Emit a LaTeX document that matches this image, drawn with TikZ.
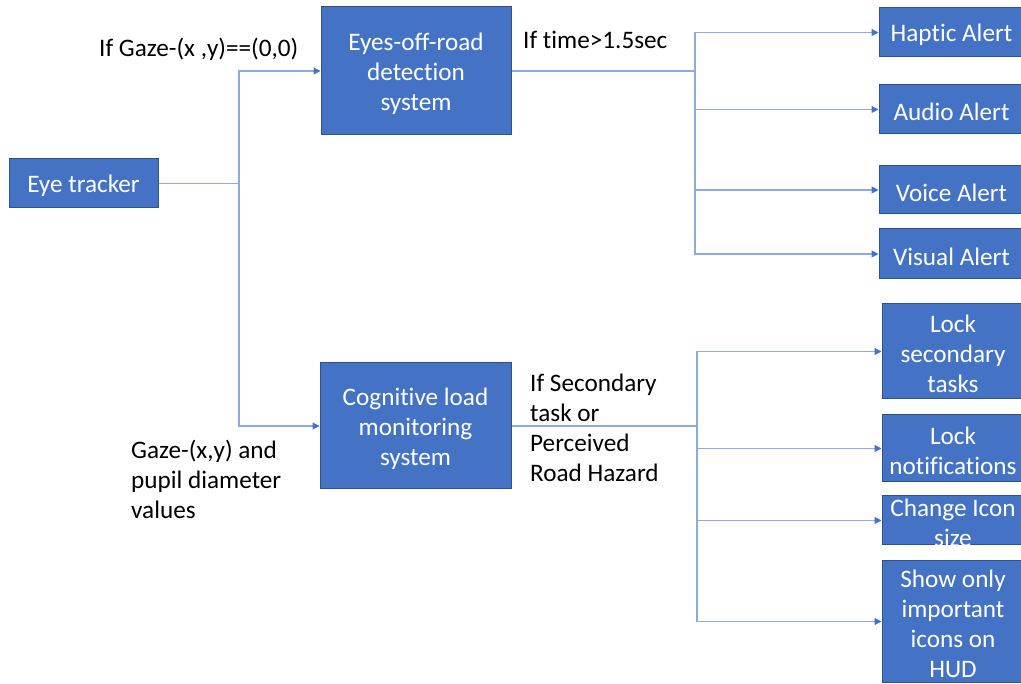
\documentclass[tikz,border=0pt]{standalone}
\usepackage{fontspec}
\setmainfont{Carlito}[Ligatures={NoCommon}]
\usetikzlibrary{arrows.meta}
\definecolor{boxfill}{HTML}{4472C4}
\definecolor{boxline}{HTML}{2F528F}
\definecolor{conn}{HTML}{8FAADC}
\definecolor{tipc}{HTML}{4472C4}
\tikzset{
  box/.style={draw=boxline, line width=1pt, fill=boxfill, inner sep=0pt},
  boxtxt/.style={text=white, align=center, inner sep=0pt, yshift=-2.5pt, font=\fontsize{25.2}{30}\selectfont},
  lbl/.style={text=black, align=left, inner sep=0pt, font=\fontsize{25.2}{30}\selectfont},
  wire/.style={draw=conn, line width=1.1pt},
  arr/.style={wire, -{Triangle[length=7pt,width=7pt,color=tipc]}},
}
\begin{document}
\begin{tikzpicture}[x=1pt,y=-1pt]
\useasboundingbox (0,0) rectangle (1021,684);
% boxes
\node[box, minimum width=149pt, minimum height=49pt, label={[boxtxt]center:Eye tracker}] (eye) at (83.5,183.5) {};
\node[box, minimum width=190pt, minimum height=128pt, label={[boxtxt]center:Eyes-off-road\\detection\\system}] (eyes) at (416,71) {};
\node[box, minimum width=191pt, minimum height=126pt, label={[boxtxt]center:Cognitive load\\monitoring\\system}] (cog) at (415.5,426) {};
\node[box, minimum width=145pt, minimum height=49pt, label={[boxtxt]center:Haptic Alert}] (haptic) at (951.5,32.5) {};
\node[box, minimum width=145pt, minimum height=49pt, label={[boxtxt]center:Audio Alert}] (audio) at (951.5,109.5) {};
\node[box, minimum width=145pt, minimum height=48pt, label={[boxtxt]center:Voice Alert}] (voice) at (951.5,190) {};
\node[box, minimum width=145pt, minimum height=50pt, label={[boxtxt]center:Visual Alert}] (visual) at (951.5,254) {};
\node[box, minimum width=142pt, minimum height=95pt, label={[boxtxt]center:Lock\\secondary\\tasks}] (locksec) at (953,351.5) {};
\node[box, minimum width=142pt, minimum height=67pt, label={[boxtxt]center:Lock\\notifications}] (locknot) at (953,448.5) {};
\node[box, minimum width=142pt, minimum height=49pt, label={[boxtxt]center:Change Icon\\size}] (icon) at (953,520.5) {};
\node[box, minimum width=142pt, minimum height=121pt, label={[boxtxt]center:Show only\\important\\icons on\\HUD}] (show) at (953,621.5) {};
% junctions
\coordinate (j1) at (239,183.5);
\coordinate (j2) at (695,71);
\coordinate (j3) at (697,426);
% connectors
\draw[wire] (eye.east) -- (j1);
\draw[arr] (j1) |- (eyes.west);
\draw[arr] (j1) |- (cog.west);
\draw[wire] (eyes.east) -- (j2);
\draw[arr] (j2) |- (haptic.west);
\draw[arr] (j2) |- (audio.west);
\draw[arr] (j2) |- (voice.west);
\draw[arr] (j2) |- (visual.west);
\draw[wire] (cog.east) -- (j3);
\draw[arr] (j3) |- (locksec.west);
\draw[arr] (j3) |- (locknot.west);
\draw[arr] (j3) |- (icon.west);
\draw[arr] (j3) |- (show.west);
% labels
\node[lbl, anchor=west] (l1) at (99,49) {If Gaze-(x ,y)==(0,0)};
\node[lbl, anchor=west] (l2) at (523,40) {If time>1.5sec};
\node[lbl, anchor=west] (l3) at (530,428) {If Secondary\\task or\\Perceived\\Road Hazard};
\node[lbl, anchor=west] (l4) at (131,479) {Gaze-(x,y) and\\pupil diameter\\values};
\end{tikzpicture}
\end{document}
